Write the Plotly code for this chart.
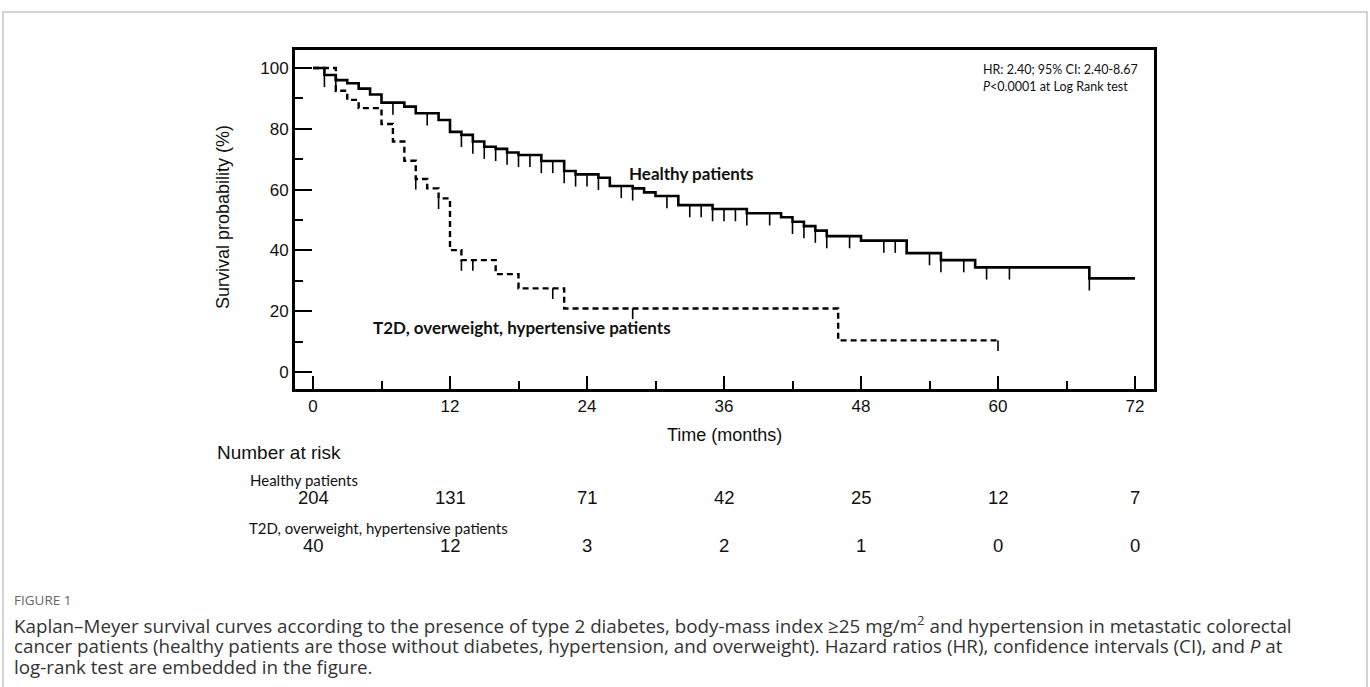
import plotly.graph_objects as go

W, H = 1370, 687

# ---------------- data ----------------
healthy_times = [0, 1, 2, 3, 4, 5, 6, 8, 9, 11, 12, 13, 14, 15, 16, 17, 18, 20, 22, 23, 25, 26,
                 28, 29, 30, 32, 35, 38, 41, 42, 43, 44, 45, 48, 52, 55, 58, 68, 72]
healthy_surv = [100, 97.7, 96.0, 95.0, 93.2, 91.3, 88.6, 87.3, 85.1, 82.9, 79.0, 78.0, 75.8, 74.1,
                73.4, 72.2, 71.4, 69.4, 66.1, 65.0, 63.9, 61.2, 60.4, 59.1, 57.9, 54.9, 53.6, 52.2,
                50.9, 49.4, 48.0, 46.5, 44.7, 43.2, 39.1, 36.8, 34.4, 30.8, 30.8]
healthy_censor = [1, 2, 7, 10, 13, 14, 15, 16, 17, 18, 19, 20, 21, 22, 23, 24, 25, 27, 28, 31, 33,
                  34, 35, 36, 37, 38, 40, 42, 43, 44, 45, 47, 50, 51, 54, 55, 57, 59, 61, 68]

t2d_times = [0, 2, 3, 4, 6, 7, 8, 9, 10, 11, 12, 13, 16, 18, 22, 46, 60]
t2d_surv = [100, 92.5, 89.5, 86.8, 81.6, 75.8, 69.5, 63.5, 60.4, 57.1, 40.1, 36.8, 32.2, 27.5,
            20.9, 10.4, 10.4]
t2d_censor = [9, 11, 13, 14, 21, 28, 60]

risk_times = [0, 12, 24, 36, 48, 60, 72]
risk_healthy = [204, 131, 71, 42, 25, 12, 7]
risk_t2d = [40, 12, 3, 2, 1, 0, 0]

x_ticks = [0, 12, 24, 36, 48, 60, 72]
y_ticks = [0, 20, 40, 60, 80, 100]


def px(x):
    return x / W


def py(y):
    return 1 - y / H


def level_at(times, surv, t):
    val = surv[0]
    for ti, si in zip(times, surv):
        if ti <= t:
            val = si
    return val


def censor_xy(times, surv, cens, length):
    xs, ys = [], []
    for c in cens:
        s = level_at(times, surv, c)
        xs += [c, c, None]
        ys += [s, s - length, None]
    return xs, ys


fig = go.Figure()

fig.add_trace(go.Scatter(x=healthy_times, y=healthy_surv, mode="lines",
                         line=dict(color="black", width=2.6, shape="hv"),
                         hoverinfo="skip", showlegend=False))
cx, cy = censor_xy(healthy_times, healthy_surv, healthy_censor, 4.0)
fig.add_trace(go.Scatter(x=cx, y=cy, mode="lines", line=dict(color="black", width=1.6),
                         hoverinfo="skip", showlegend=False))

fig.add_trace(go.Scatter(x=t2d_times, y=t2d_surv, mode="lines",
                         line=dict(color="black", width=2.4, shape="hv", dash="6px,4px"),
                         hoverinfo="skip", showlegend=False))
cx, cy = censor_xy(t2d_times, t2d_surv, t2d_censor, 3.5)
fig.add_trace(go.Scatter(x=cx, y=cy, mode="lines", line=dict(color="black", width=1.6),
                         hoverinfo="skip", showlegend=False))

# axis geometry (pixels): x 0 -> 313, 72 -> 1135 ; y 0 -> 372, 100 -> 68
x_left, x_right, y_top, y_bot = 295, 1154, 50, 389
xs_per_px = 72 / (1135 - 313)
ys_per_px = 100 / (372 - 68)
x_range = [(x_left - 313) * xs_per_px, (x_right - 313) * xs_per_px]
y_range = [(372 - y_bot) * ys_per_px, (372 - y_top) * ys_per_px]

tick_font = dict(family="Liberation Sans, Arial, sans-serif", size=17, color="#111")

fig.update_layout(
    width=W, height=H,
    margin=dict(l=0, r=0, t=0, b=0),
    paper_bgcolor="white", plot_bgcolor="white",
    showlegend=False,
    xaxis=dict(domain=[px(x_left), px(x_right)], range=x_range, tickvals=x_ticks,
               ticks="inside", ticklen=13, tickwidth=2, tickcolor="black",
               showline=True, linecolor="black", linewidth=3, mirror=True,
               showgrid=False, zeroline=False, tickfont=tick_font,
               minor=dict(ticks="inside", ticklen=8, tickwidth=2, tickcolor="black",
                          tickvals=[6, 18, 30, 42, 54, 66], showgrid=False)),
    yaxis=dict(domain=[py(y_bot), py(y_top)], range=y_range, tickvals=y_ticks,
               ticks="inside", ticklen=17, tickwidth=2, tickcolor="black",
               showline=True, linecolor="black", linewidth=3, mirror=True,
               showgrid=False, zeroline=False, tickfont=tick_font,
               minor=dict(ticks="inside", ticklen=8, tickwidth=2, tickcolor="black",
                          tickvals=[10, 30, 50, 70, 90], showgrid=False)),
)

ann = []
arial = "Liberation Sans, Arial, sans-serif"
cal = "Lato, Carlito, Calibri, sans-serif"
cap = "Open Sans, Noto Sans, sans-serif"


def A(text, x, y, size, family, xanchor="left", color="#111", angle=0, xref="paper"):
    ann.append(dict(text=text, x=x if xref != "paper" else px(x), y=py(y), xref=xref, yref="paper",
                    xanchor=xanchor, yanchor="middle", showarrow=False, textangle=angle,
                    font=dict(size=size, family=family, color=color)))


A("Survival probability (%)", 223, 217, 18, arial, xanchor="center", angle=-90)
A("Time (months)", 724, 435, 18, arial, xanchor="center")
A("HR: 2.40; 95% CI: 2.40-8.67", 981, 70, 12.5, cal)
A("<i>P</i>&lt;0.0001 at Log Rank test", 981, 87, 12.5, cal)
A("<b>Healthy patients</b>", 691, 174, 17, cal, xanchor="center")
A("<b>T2D, overweight, hypertensive patients</b>", 522, 328, 17, cal, xanchor="center")

A("Number at risk", 215, 452, 19, arial)
A("Healthy patients", 248, 480, 15, cal)
A("T2D, overweight, hypertensive patients", 247, 528, 15, cal)
for t, n in zip(risk_times, risk_healthy):
    A(str(n), t, 497, 18.5, arial, xanchor="center", xref="x")
for t, n in zip(risk_times, risk_t2d):
    A(str(n), t, 545, 18.5, arial, xanchor="center", xref="x")

A("FIGURE 1", 12, 600, 13.5, cap, color="#666")
A("Kaplan\u2013Meyer survival curves according to the presence of type 2 diabetes, body-mass index \u226525 mg/m<sup>2</sup> and hypertension in metastatic colorectal",
  12, 625, 18.8, cap, color="#333")
A("cancer patients (healthy patients are those without diabetes, hypertension, and overweight). Hazard ratios (HR), confidence intervals (CI), and <i>P</i> at",
  12, 646, 18.8, cap, color="#333")
A("log-rank test are embedded in the figure.", 12, 667, 18.8, cap, color="#333")

fig.update_layout(annotations=ann)

# light gray frame around the figure
fig.add_shape(type="rect", xref="paper", yref="paper", x0=px(3), x1=px(1367), y0=py(700), y1=py(12),
              line=dict(color="#d4d4d4", width=2), fillcolor="rgba(0,0,0,0)", layer="below")

fig.write_html("out.html", config={"displayModeBar": False},
               post_script="document.body.style.margin='0px';document.body.style.padding='0px';"
                           "document.documentElement.style.overflow='hidden';")
